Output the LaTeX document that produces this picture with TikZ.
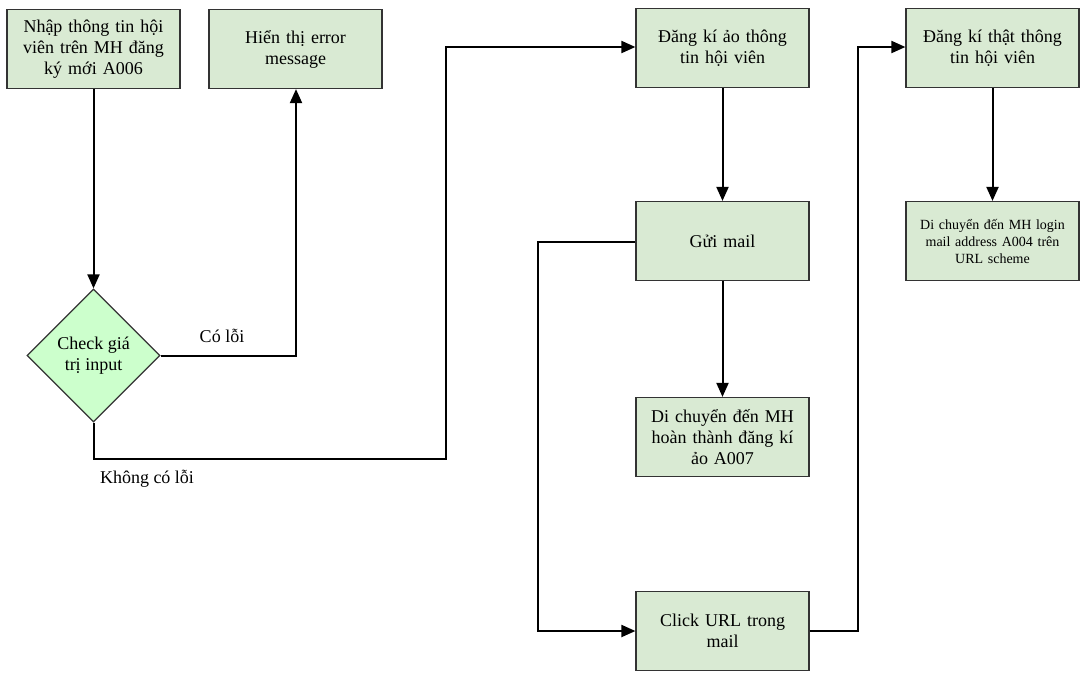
\documentclass[tikz,border=0pt]{standalone}
\usepackage{fontspec}
\setmainfont{Liberation Serif}
\usetikzlibrary{shapes.geometric,arrows.meta}
\definecolor{boxfill}{HTML}{D9EAD3}
\definecolor{dfill}{HTML}{CCFFCC}
\definecolor{bord}{HTML}{333333}
\tikzset{
  box/.style={draw=bord,line width=1.2pt,fill=boxfill,minimum width=173pt,minimum height=79pt,inner sep=2pt,align=center,text width=165pt,font=\fontsize{18}{21}\selectfont},
  smallbox/.style={box,font=\fontsize{14}{17}\selectfont},
  dec/.style={draw=bord,line width=1.2pt,fill=dfill,diamond,minimum width=133pt,minimum height=133pt,inner sep=0pt,align=center,font=\fontsize{18}{21}\selectfont},
  conn/.style={line width=2pt,-{Triangle[length=14pt,width=12pt]}},
  lbl/.style={font=\fontsize{18}{21}\selectfont}
}
\begin{document}
\begin{tikzpicture}[x=1pt,y=-1pt]
\useasboundingbox (0,0) rectangle (1090,678);
\node[box] (n1) at (93.5,49) {Nhập thông tin hội\\viên trên MH đăng\\ký mới A006};
\node[box] (n2) at (295.5,49) {Hiển thị error\\message};
\node[dec] (d) at (93.5,355.5) {Check giá\\trị input};
\node[box] (n3) at (722.5,48) {Đăng kí ảo thông\\tin hội viên};
\node[box] (n4) at (722.5,241) {Gửi mail};
\node[box] (n5) at (722.5,437) {Di chuyển đến MH\\hoàn thành đăng kí\\ảo A007};
\node[box] (n6) at (722.5,631) {Click URL trong\\mail};
\node[box] (n7) at (992.5,48) {Đăng kí thật thông\\tin hội viên};
\node[smallbox] (n8) at (992.5,241) {Di chuyển đến MH login\\mail address A004 trên\\URL scheme};
\coordinate (c1) at (296,355.5);
\coordinate (c2a) at (93.5,459);
\coordinate (c2b) at (446,459);
\coordinate (c2c) at (446,47);
\coordinate (c3a) at (538,242);
\coordinate (c3b) at (538,631);
\coordinate (c4a) at (858,631);
\coordinate (c4b) at (858,47);
\draw[conn] (n1) -- (d);
\draw[conn] (d.east) -- (c1) -- (n2.south -| c1);
\draw[conn] (d.south) -- (c2a) -- (c2b) -- (c2c) -- (n3.west |- c2c);
\draw[conn] (n3) -- (n4);
\draw[conn] (n4) -- (n5);
\draw[conn] (n4.west |- c3a) -- (c3a) -- (c3b) -- (n6.west);
\draw[conn] (n6.east) -- (c4a) -- (c4b) -- (n7.west |- c4b);
\draw[conn] (n7) -- (n8);
\node[lbl] (l1) at (222,336) {Có lỗi};
\node[lbl] (l2) at (147,479) {Không có lỗi};
\end{tikzpicture}
\end{document}
